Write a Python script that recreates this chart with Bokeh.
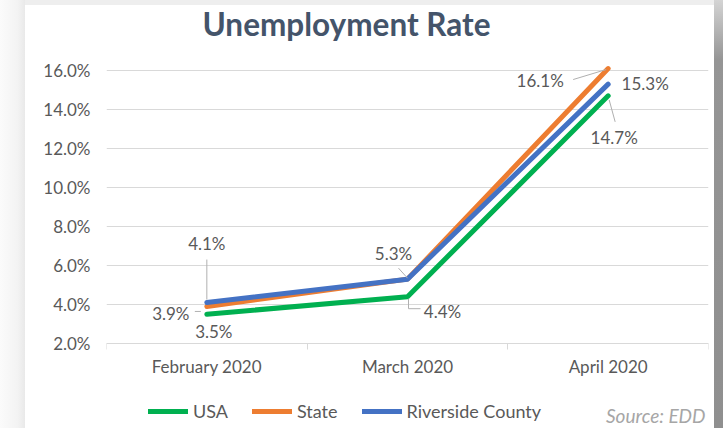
from bokeh.plotting import figure
from bokeh.models import (Range1d, FixedTicker, PrintfTickFormatter, Label, LabelSet,
                          ColumnDataSource, Legend, LegendItem, Spacer)
from bokeh.layouts import row, column
from bokeh.core.properties import value
from bokeh.embed import file_html
from bokeh.resources import INLINE

# ---- data ----
months = ["February 2020", "March 2020", "April 2020"]
usa = [3.5, 4.4, 14.7]
state = [3.9, 5.3, 16.1]
riverside = [4.1, 5.3, 15.3]
y_ticks = [2, 4, 6, 8, 10, 12, 14, 16]

FONT = "Lato"
LABEL_COLOR = "#595959"
GRID_COLOR = "#d9d9d9"

FIG_W, FIG_H = 689, 423
FRAME_W = 602
Y0, Y1 = -2.359, 19.333
xs = [i + 0.5 for i in range(len(months))]

p = figure(width=FIG_W, height=FIG_H, output_backend="svg", toolbar_location=None,
           x_range=Range1d(0, len(months)), y_range=Range1d(Y0, Y1),
           min_border_left=81, min_border_right=6, min_border_top=0, min_border_bottom=0)
p.outline_line_color = None
p.background_fill_color = "white"
p.border_fill_color = "white"

# x axis sits at the 2% level; labels at category centres, ticks at boundaries
p.xaxis.fixed_location = y_ticks[0]
p.xaxis.bounds = (0, len(months))
p.xaxis.ticker = FixedTicker(ticks=xs, minor_ticks=list(range(len(months) + 1)))
p.xaxis.major_label_overrides = {x: m for x, m in zip(xs, months)}
p.xaxis.major_tick_line_color = None
p.xaxis.major_tick_out = 0
p.xaxis.major_tick_in = 0
p.xaxis.minor_tick_line_color = GRID_COLOR
p.xaxis.minor_tick_out = 6
p.xaxis.minor_tick_in = 0
p.xaxis.axis_line_color = GRID_COLOR
p.xaxis.major_label_text_font = FONT
p.xaxis.major_label_text_font_size = "17px"
p.xaxis.major_label_text_color = LABEL_COLOR
p.xaxis.major_label_standoff = 7
p.xgrid.grid_line_color = None

p.yaxis.ticker = FixedTicker(ticks=y_ticks)
p.yaxis.formatter = PrintfTickFormatter(format="%.1f%%")
p.yaxis.axis_line_color = None
p.yaxis.major_tick_line_color = None
p.yaxis.minor_tick_line_color = None
p.yaxis.major_tick_out = 0
p.yaxis.major_label_text_font = FONT
p.yaxis.major_label_text_font_size = "17px"
p.yaxis.major_label_text_color = LABEL_COLOR
p.yaxis.major_label_standoff = 16
p.ygrid.grid_line_color = GRID_COLOR
p.ygrid.grid_line_width = 1

# ---- lines ----
series = [("USA", usa, "#00b050"), ("State", state, "#ed7d31"),
          ("Riverside County", riverside, "#4472c4")]
renderers = []
for name, vals, col in series:
    r = p.line(xs, vals, line_color=col, line_width=5, line_join="round", line_cap="round")
    renderers.append((name, r))

# ---- data labels ----
px_x = FRAME_W / len(months)
px_y = FIG_H / (Y1 - Y0)
# (series values, index, label dx, label dy (px, +down))
lab_spec = [
    (riverside, 0, 0, -59), (state, 0, -36, 7), (usa, 0, 7, 17),
    (riverside, 1, -14, -26), (usa, 1, 35, 15),
    (state, 2, -68, 12), (riverside, 2, 37, -1), (usa, 2, 6, 42),
]
src = ColumnDataSource(dict(
    x=[xs[i] for _, i, _, _ in lab_spec],
    y=[v[i] for v, i, _, _ in lab_spec],
    text=["%.1f%%" % v[i] for v, i, _, _ in lab_spec],
    dx=[d for _, _, d, _ in lab_spec],
    dy=[-d for _, _, _, d in lab_spec],
))
p.add_layout(LabelSet(x="x", y="y", text="text", source=src, x_offset="dx", y_offset="dy",
                      text_align="center", text_baseline="middle", text_font=value(FONT),
                      text_font_size="17px", text_color=LABEL_COLOR))

# leader lines (pixel offsets from the data point)
lead_spec = [
    (riverside, 0, [(0, -43), (0, -3)]),
    (state, 0, [(-12, 5), (-6, 5)]),
    (riverside, 1, [(-9, -11), (0, -1)]),
    (usa, 1, [(1, 2), (1, 12), (13, 12)]),
    (state, 2, [(-35, 11), (-2, 1)]),
    (usa, 2, [(1, 4), (7, 26)]),
]
mx, my = [], []
for vals, i, pts in lead_spec:
    mx.append([xs[i] + dx / px_x for dx, dy in pts])
    my.append([vals[i] - dy / px_y for dx, dy in pts])
p.multi_line(mx, my, line_color="#b0b0b0", line_width=1)

# ---- title ----
p.add_layout(Label(x=240, y=405, x_units="screen", y_units="screen", text="Unemployment Rate",
                   text_font=FONT, text_font_style="bold", text_font_size="31.5px",
                   text_color="#44546a", text_align="center", text_baseline="middle"))

# ---- source note ----
p.add_layout(Label(x=599, y=13, x_units="screen", y_units="screen", text="Source: EDD",
                   text_font=FONT, text_font_style="italic", text_font_size="19px",
                   text_color="#a6a6a6", text_align="right", text_baseline="middle"))

# ---- legend ----
legend = Legend(items=[LegendItem(label=n, renderers=[r]) for n, r in renderers],
                orientation="horizontal", location=(42, 6),
                glyph_width=40, glyph_height=16, label_height=16, label_standoff=5,
                spacing=24, padding=0, margin=0, border_line_color=None,
                background_fill_alpha=0, label_text_font=FONT, label_text_font_size="18px",
                label_text_color=LABEL_COLOR)
p.add_layout(legend, "center")

# ---- card shadow around the chart ----
left = Spacer(width=25, height=428,
              styles={"background": "linear-gradient(to right, #fbfbfb, #f3f3f3 70%, #e9e9e9)"})
top = Spacer(width=FIG_W, height=5, styles={"background": "#eeeeee"})
right = Spacer(width=9, height=428,
               styles={"background": "linear-gradient(to bottom, #d4d4d4, #959595 14%, #8f8f8f)"})
layout = row(left, column(top, p, spacing=0), right, spacing=0)

open("out.html", "w").write(file_html(layout, INLINE))
